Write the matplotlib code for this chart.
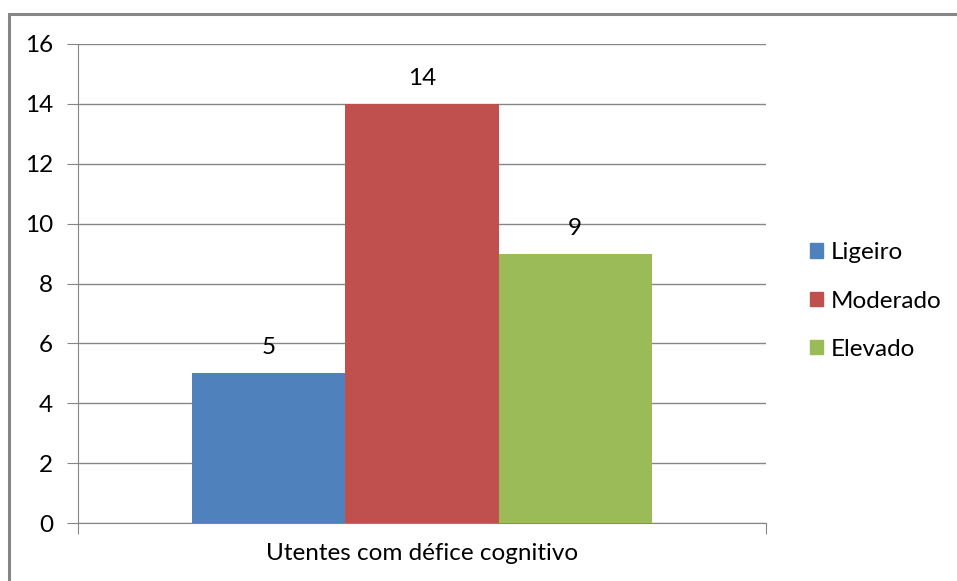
import numpy as np
import matplotlib.pyplot as plt
from matplotlib.patches import Rectangle, Patch

plt.rcParams['font.family'] = ['Lato', 'DejaVu Sans']

category = "Utentes com défice cognitivo"
series = ["Ligeiro", "Moderado", "Elevado"]
values = [5, 14, 9]
colors = ["#4F81BD", "#C0504D", "#9BBB59"]
yticks = [0, 2, 4, 6, 8, 10, 12, 14, 16]

FS = 17.5

fig = plt.figure(figsize=(9.57, 5.81), dpi=100)
fig.patch.set_facecolor("white")

# chart border (runs off the right and bottom edges)
fig.patches.append(Rectangle((9 / 957, -0.05), 1.0, 1 - 14 / 581 + 0.05,
                             transform=fig.transFigure, fill=False,
                             edgecolor="#868686", linewidth=2.2))

ax = fig.add_axes([78 / 957, 58 / 581, 688 / 957, 479 / 581])

w = 0.2224
offs = (np.arange(len(series)) - 1) * w
for i, (name, v, c) in enumerate(zip(series, values, colors)):
    ax.bar(offs[i], v, width=w, color=c, label=name, zorder=3)
    ax.text(offs[i], v + 0.5, str(v), ha="center", va="bottom", fontsize=FS)

ax.set_xlim(-0.5, 0.5)
ax.set_ylim(0, 16)
ax.set_yticks(yticks)
ax.set_yticklabels([str(t) for t in yticks], fontsize=FS)
ax.yaxis.grid(True, color="#868686", linewidth=1)
ax.set_axisbelow(True)
ax.tick_params(axis="y", length=8, color="#868686", pad=10)

ax.set_xticks([-0.5, 0.5])
ax.set_xticklabels(["", ""])
ax.tick_params(axis="x", length=8, color="#868686")
ax.text(0, -0.042, category, transform=ax.get_xaxis_transform(),
        ha="center", va="top", fontsize=FS)

for s in ["top", "right"]:
    ax.spines[s].set_visible(False)
for s in ["left", "bottom"]:
    ax.spines[s].set_color("#868686")

handles = [Patch(color=c, label=n) for n, c in zip(series, colors)]
fig.legend(handles=handles, loc="center left", bbox_to_anchor=(800 / 957, 1 - 301 / 581),
           frameon=False, fontsize=FS, handlelength=0.55, handleheight=0.55,
           handletextpad=0.3, labelspacing=1.12, borderaxespad=0)

fig.savefig("out.png", dpi=100)
